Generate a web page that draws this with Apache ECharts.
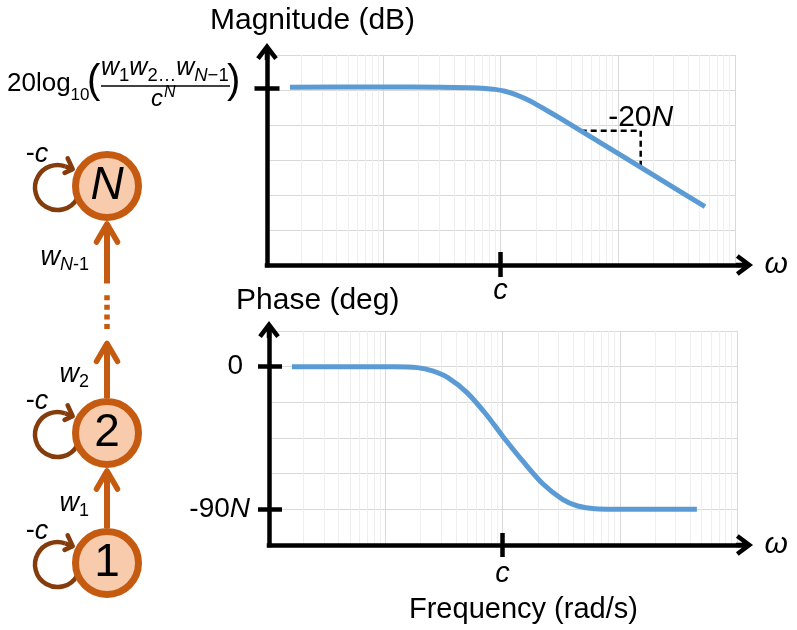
<!DOCTYPE html>
<html>
<head>
<meta charset="utf-8">
<script src="https://cdn.jsdelivr.net/npm/echarts@6/dist/echarts.min.js"></script>
<style>html,body{margin:0;padding:0;background:#fff}#c{width:797px;height:630px}</style>
</head>
<body>
<div id="c"></div>
<script>
// ---------- data ----------
const freqMin = 1, freqMax = 10000, cornerFreq = 100;
const magFreq = [1.6, 9.95, 30.5, 55, 73.8, 89.8, 109.2, 133, 161.8, 197, 239.6, 321.8, 505.3, 1045, 2293, 5548];
const magValues = [1.54, 1.77, 1.54, 1.26, 0.91, 0.37, -0.69, -2.46, -4.86, -7.77, -11.03, -16.11, -24.06, -36.97, -50.97, -66.63];
const phaseFreq = [1.6, 12, 18.8, 25.3, 34.2, 49.8, 72.4, 100, 153, 223, 325, 438, 614, 1455, 4550];
const phaseValues = [0, 0, -0.6, -2.7, -6.9, -16.4, -30, -43.7, -60.6, -74.2, -83.7, -87.9, -89.6, -90, -90];
const minorFreqs = [2,3,4,5,6,7,8,9,20,30,40,50,60,70,80,90,200,300,400,500,600,700,800,900,2000,3000,4000,5000,6000,7000,8000,9000];
const slopeFreq = [483, 1569];
const slopeLevels = [-23.3, -44.2];
const magTickValues = [1];
const phaseTickValues = [0, -90];
const nodeNames = ['1', '2', 'N'];
const nodeLevels = [0, 1, 2.9];
const nodeItalic = [false, false, true];
const nodeColumn = 0.5;
const edgeStart = [0, 1, 2.15];
const edgeEnd = [1, 1.69, 2.9];
const edgeLabels = ['{w|w}{s|1}', '{w|w}{s|2}', '{w|w}{si|N}{s|-1}'];
const dotsRange = [1.79, 2.06];

// ---------- style ----------
const F = '"Liberation Sans", Arial, sans-serif';
const FF = 'Liberation Sans, Arial, sans-serif';
const font = (size, italic) => (italic ? 'italic ' : '') + size + 'px ' + F;
const BLUE = '#5B9BD5', MAJOR = '#d9d9d9', MINOR = '#eeeeee';
const ORANGE = '#C55A11', PEACH = '#F8CBAD', BROWN = '#843C0C';
const ARROW = 'path://M10.8,0L21.6,14.4L18,17.1L10.8,7.5L3.6,17.1L0,14.4ZM8.55,5L13.05,5L13.05,17.1L8.55,17.1Z';
const NODE_R = 35;
const logMin = Math.log10(freqMin), logMax = Math.log10(freqMax), cornerLog = Math.log10(cornerFreq);

const off = {axisLine:{show:false,onZero:false}, axisTick:{show:false}, axisLabel:{show:false}, splitLine:{show:false}};
function arrowAxis(grid, isX) {
  const a = {gridIndex:grid, type:'value', min:0, max:1, z:3,
    position: isX ? 'bottom' : 'left',
    axisLine:{show:true, onZero:false, symbol:['none', ARROW], symbolSize:[21.6,17.1],
      lineStyle:{color:'#000', width:4.5, cap:'square'}},
    axisTick:{show:false}, axisLabel:{show:false}, splitLine:{show:false}};
  if (isX) {
    a.name = 'ω'; a.nameLocation = 'end'; a.nameGap = 20;
    a.nameTextStyle = {fontFamily:FF, fontSize:30, fontStyle:'italic', color:'#000'};
  }
  return a;
}
const cLabel = (margin) => ({show:true, customValues:[cornerLog], formatter:() => 'c', margin:margin,
  fontFamily:FF, fontSize:29, lineHeight:29, fontStyle:'italic', color:'#000'});

function renderNode(params, api) {
  const i = params.dataIndex;
  const p = api.coord([api.value(0), api.value(1)]);
  const cx = p[0], cy = p[1];
  const lcx = cx - 49.5, lcy = cy + 1.5, lr = 22.5;
  const a0 = 30 * Math.PI / 180, a1 = 290 * Math.PI / 180;
  const ex = lcx + lr * Math.cos(a1), ey = lcy + lr * Math.sin(a1);
  const dx = -Math.sin(a1), dy = Math.cos(a1);
  const tx = ex + dx * 8, ty = ey + dy * 8;
  const rot = (x, y, a) => [x * Math.cos(a) - y * Math.sin(a), x * Math.sin(a) + y * Math.cos(a)];
  const A = rot(-dx, -dy, Math.PI / 4), B = rot(-dx, -dy, -Math.PI / 4);
  return {type:'group', children:[
    {type:'arc', shape:{cx:lcx, cy:lcy, r:lr, startAngle:a0, endAngle:a1, clockwise:true},
      style:{stroke:BROWN, lineWidth:4.5, fill:'none'}},
    {type:'line', shape:{x1:ex, y1:ey, x2:tx, y2:ty}, style:{stroke:BROWN, lineWidth:4.5}},
    {type:'polyline', shape:{points:[[tx + A[0]*12, ty + A[1]*12], [tx, ty], [tx + B[0]*9, ty + B[1]*9]]},
      style:{stroke:BROWN, lineWidth:4.5, fill:'none', lineJoin:'round', lineCap:'round'}},
    {type:'text', x:cx - 70, y:cy - 32, style:{text:'{m|-}{i|c}', align:'center', textAlign:'center',
      verticalAlign:'middle', textVerticalAlign:'middle',
      rich:{m:{font:font(27), fill:'#000'}, i:{font:font(27, true), fill:'#000'}}}},
    {type:'circle', shape:{cx:cx, cy:cy, r:NODE_R - 3.5}, style:{fill:PEACH, stroke:ORANGE, lineWidth:7}},
    {type:'text', x:cx, y:cy, style:{text:nodeNames[i], font:font(46, nodeItalic[i]), fill:'#000',
      align:'center', textAlign:'center', verticalAlign:'middle', textVerticalAlign:'middle'}}
  ]};
}

function renderEdge(params, api) {
  const i = params.dataIndex;
  const from = api.value(1), to = api.value(2);
  const p0 = api.coord([api.value(0), from]);
  const p1 = api.coord([api.value(0), to]);
  const x = p0[0];
  let y0 = p0[1], y1 = p1[1];
  if (nodeLevels.indexOf(from) >= 0) y0 -= NODE_R;
  if (nodeLevels.indexOf(to) >= 0) y1 += NODE_R + 3;
  const mid = (y0 + y1) / 2;
  return {type:'group', children:[
    {type:'line', shape:{x1:x, y1:y0, x2:x, y2:y1 + 3}, style:{stroke:ORANGE, lineWidth:6}},
    {type:'polyline', shape:{points:[[x - 10.5, y1 + 18], [x, y1], [x + 10.5, y1 + 18]]},
      style:{stroke:ORANGE, lineWidth:5.5, fill:'none', lineJoin:'round', lineCap:'round'}},
    {type:'text', x:x - 18, y:mid + 6 - 15.8, style:{text:edgeLabels[i], align:'right', textAlign:'right',
      verticalAlign:'top', textVerticalAlign:'top',
      rich:{w:{font:font(27, true), lineHeight:27, verticalAlign:'top', fill:'#000'},
            s:{font:font(18), lineHeight:18, verticalAlign:'top', padding:[12,0,0,0], fill:'#000'},
            si:{font:font(18, true), lineHeight:18, verticalAlign:'top', padding:[12,0,0,0], fill:'#000'}}}}
  ]};
}

function renderDots(params, api) {
  const pTop = api.coord([api.value(0), api.value(2)]);
  const pBot = api.coord([api.value(0), api.value(1)]);
  return {type:'line', shape:{x1:pTop[0], y1:pTop[1], x2:pBot[0], y2:pBot[1]},
    style:{stroke:ORANGE, lineWidth:5.5, lineDash:[5, 4.6]}};
}

const minorLine = {silent:true, z:1, symbol:['none','none'], label:{show:false}, animation:false,
  lineStyle:{color:MINOR, width:1, type:'solid'}, emphasis:{disabled:true},
  data: minorFreqs.map(v => ({xAxis:v}))};

const option = {
  animation:false,
  title:[
    {text:'Magnitude (dB)', left:210, top:6, padding:0, textStyle:{fontFamily:FF, fontWeight:'normal', fontSize:30, lineHeight:30, color:'#000'}},
    {text:'Phase (deg)', left:236, top:286, padding:0, textStyle:{fontFamily:FF, fontWeight:'normal', fontSize:30, lineHeight:30, color:'#000'}},
    {text:'Frequency (rad/s)', left:409, top:595, padding:0, textStyle:{fontFamily:FF, fontWeight:'normal', fontSize:29, lineHeight:29, color:'#000'}}
  ],
  grid:[
    {left:266, top:55, width:469, height:210},
    {left:267, top:51.5, width:477.5, height:213.5},
    {left:268, top:331, width:469, height:214},
    {left:269, top:329.5, width:475.5, height:215.5},
    {left:57, top:173, width:100, height:390}
  ],
  xAxis:[
    Object.assign({}, off, {gridIndex:0, type:'log', logBase:10, min:freqMin, max:freqMax,
      splitLine:{show:true, lineStyle:{color:MAJOR, width:1}}}),
    {gridIndex:0, type:'value', min:logMin, max:logMax, position:'bottom', offset:-13, z:3,
      axisLine:{show:false, onZero:false},
      axisTick:{show:true, customValues:[cornerLog], length:25, lineStyle:{color:'#000', width:4.5}},
      axisLabel:cLabel(24.5), splitLine:{show:false}},
    arrowAxis(1, true),
    Object.assign({}, off, {gridIndex:2, type:'log', logBase:10, min:freqMin, max:freqMax,
      splitLine:{show:true, lineStyle:{color:MAJOR, width:1}}}),
    {gridIndex:2, type:'value', min:logMin, max:logMax, position:'bottom', offset:-12, z:3,
      axisLine:{show:false, onZero:false},
      axisTick:{show:true, customValues:[cornerLog], length:24, lineStyle:{color:'#000', width:4.5}},
      axisLabel:cLabel(26.5), splitLine:{show:false}},
    arrowAxis(3, true),
    Object.assign({}, off, {gridIndex:4, type:'value', min:0, max:1, show:false})
  ],
  yAxis:[
    Object.assign({}, off, {gridIndex:0, type:'value', min:-100, max:20, interval:20,
      splitLine:{show:true, lineStyle:{color:MAJOR, width:1}}}),
    {gridIndex:0, type:'value', min:-100, max:20, interval:20, position:'left', offset:-13.5, z:3,
      axisLine:{show:false, onZero:false},
      axisTick:{show:true, customValues:magTickValues, length:25, lineStyle:{color:'#000', width:4.5}},
      axisLabel:{show:false}, splitLine:{show:false}},
    arrowAxis(1, false),
    Object.assign({}, off, {gridIndex:2, type:'value', min:-112.5, max:22.5, interval:22.5,
      splitLine:{show:true, lineStyle:{color:MAJOR, width:1}}}),
    {gridIndex:2, type:'value', min:-112.5, max:22.5, interval:22.5, position:'left', offset:-14, z:3,
      axisLine:{show:false, onZero:false},
      axisTick:{show:true, customValues:phaseTickValues, length:24, lineStyle:{color:'#000', width:4.5}},
      axisLabel:{show:true, customValues:phaseTickValues, margin:32, fontFamily:FF, fontSize:28, color:'#000',
        formatter:v => v === 0 ? '{z|0}' : '-90{i|N}',
        rich:{z:{fontFamily:FF, fontSize:28, color:'#000', padding:[0,7,0,0]},
              i:{fontFamily:FF, fontSize:28, color:'#000', fontStyle:'italic'}}},
      splitLine:{show:false}},
    arrowAxis(3, false),
    Object.assign({}, off, {gridIndex:4, type:'value', min:0, max:3, show:false})
  ],
  series:[
    {name:'Magnitude', type:'line', xAxisIndex:0, yAxisIndex:0, z:2, symbol:'none', smooth:0.25,
      data:magFreq.map((f, i) => [f, magValues[i]]),
      lineStyle:{color:BLUE, width:5}, markLine:minorLine},
    {name:'Slope', type:'line', xAxisIndex:0, yAxisIndex:0, z:1.5, symbol:'none',
      data:[[slopeFreq[0], slopeLevels[0]], [slopeFreq[1], slopeLevels[0]], [slopeFreq[1], slopeLevels[1]]],
      lineStyle:{color:'#000', width:2.5, type:[6,4]},
      markPoint:{symbol:'circle', symbolSize:0, silent:true,
        data:[{coord:[slopeFreq[1], slopeLevels[0]]}],
        label:{show:true, position:'top', distance:-2, formatter:'-20{i|N}',
          fontFamily:FF, fontSize:30, lineHeight:30, color:'#000',
          rich:{i:{fontFamily:FF, fontSize:30, lineHeight:30, color:'#000', fontStyle:'italic'}}}}},
    {name:'Phase', type:'line', xAxisIndex:3, yAxisIndex:3, z:2, symbol:'none', smooth:0.3,
      data:phaseFreq.map((f, i) => [f, phaseValues[i]]),
      lineStyle:{color:BLUE, width:5}, markLine:minorLine},
    {name:'Edges', type:'custom', xAxisIndex:6, yAxisIndex:6, z:2, silent:true,
      data:edgeStart.map((s, i) => [nodeColumn, s, edgeEnd[i]]), renderItem:renderEdge},
    {name:'Dots', type:'custom', xAxisIndex:6, yAxisIndex:6, z:2, silent:true,
      data:[[nodeColumn, dotsRange[0], dotsRange[1]]], renderItem:renderDots},
    {name:'Nodes', type:'custom', xAxisIndex:6, yAxisIndex:6, z:3, silent:true,
      data:nodeLevels.map(l => [nodeColumn, l]), renderItem:renderNode}
  ],
  graphic:[
    {type:'text', x:7, y:71, style:{text:'{m|20log}{s|10}', align:'left', textAlign:'left', verticalAlign:'top', textVerticalAlign:'top',
      rich:{m:{font:font(26), lineHeight:26, verticalAlign:'top', fill:'#000'},
            s:{font:font(17), lineHeight:17, verticalAlign:'top', padding:[16,0,0,0], fill:'#000'}}}},
    {type:'text', x:87, y:82, style:{text:'(', font:font(40), fill:'#000', align:'left', textAlign:'left', verticalAlign:'middle', textVerticalAlign:'middle'}},
    {type:'text', x:101, y:56, style:{text:'{w|w}{s|1}{w|w}{s|2}{s|…}{w|w}{si|N}{s|−1}', align:'left', textAlign:'left', verticalAlign:'top', textVerticalAlign:'top',
      rich:{w:{font:font(25, true), lineHeight:25, verticalAlign:'top', fill:'#000'},
            s:{font:font(18.5), lineHeight:18.5, verticalAlign:'top', padding:[10,0,0,0], fill:'#000'},
            si:{font:font(18.5, true), lineHeight:18.5, verticalAlign:'top', padding:[10,0,0,0], fill:'#000'}}}},
    {type:'line', shape:{x1:101, y1:86, x2:230, y2:86}, style:{stroke:'#000', lineWidth:1.5}},
    {type:'text', x:151, y:99, style:{text:'c', font:font(24, true), fill:'#000', align:'left', textAlign:'left', verticalAlign:'middle', textVerticalAlign:'middle'}},
    {type:'text', x:164, y:93, style:{text:'N', font:font(16, true), fill:'#000', align:'left', textAlign:'left', verticalAlign:'middle', textVerticalAlign:'middle'}},
    {type:'text', x:227, y:82, style:{text:')', font:font(40), fill:'#000', align:'left', textAlign:'left', verticalAlign:'middle', textVerticalAlign:'middle'}}
  ]
};

const chart = echarts.init(document.getElementById('c'), null, {renderer:'canvas'});
chart.setOption(option);
</script>
</body>
</html>
